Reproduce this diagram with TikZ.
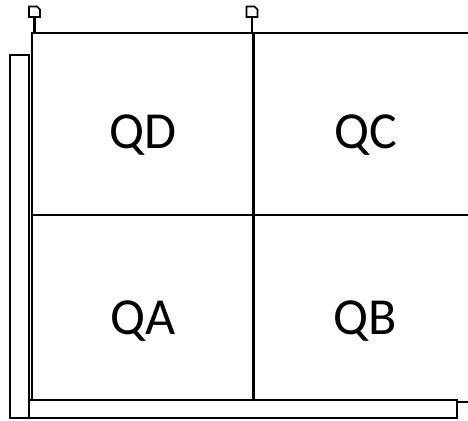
\documentclass[tikz,border=0pt]{standalone}
\usepackage{fontspec}
\setmainfont{Carlito}
\begin{document}
\begin{tikzpicture}[x=1pt,y=-1pt,
  gridline/.style={line width=2.2pt},
  barbox/.style={line width=2.2pt},
  pinbox/.style={line width=1.6pt, fill=white},
  quad/.style={font=\fontsize{52}{62}\selectfont, inner sep=0pt, anchor=base}]
\useasboundingbox (0,0) rectangle (468,420);
% grid
\draw[gridline] (32,33) -- (468,33);
\draw[gridline] (32,32) -- (32,400);
\draw[gridline] (253.5,33) -- (253.5,400);
\draw[gridline] (32,215) -- (468,215);
% bars
\draw[barbox] (10,55) rectangle (29,418);
\draw[barbox] (29,400) rectangle (457,418);
\draw[gridline] (457,402) -- (468,402);
% pins
\draw[gridline] (34.5,17) -- (34.5,33);
\draw[pinbox] (29,6.5) -- (37,6.5) -- (40,9.5) -- (40,17) -- (29,17) -- cycle;
\draw[gridline] (252,17) -- (252,33);
\draw[pinbox] (246.5,6.5) -- (254.5,6.5) -- (257.5,9.5) -- (257.5,17) -- (246.5,17) -- cycle;
% labels
\node[quad] (qd) at (143,148) {QD};
\node[quad] (qc) at (365.5,148) {QC};
\node[quad] (qa) at (143,334) {QA};
\node[quad] (qb) at (365.5,334) {QB};
\end{tikzpicture}
\end{document}
